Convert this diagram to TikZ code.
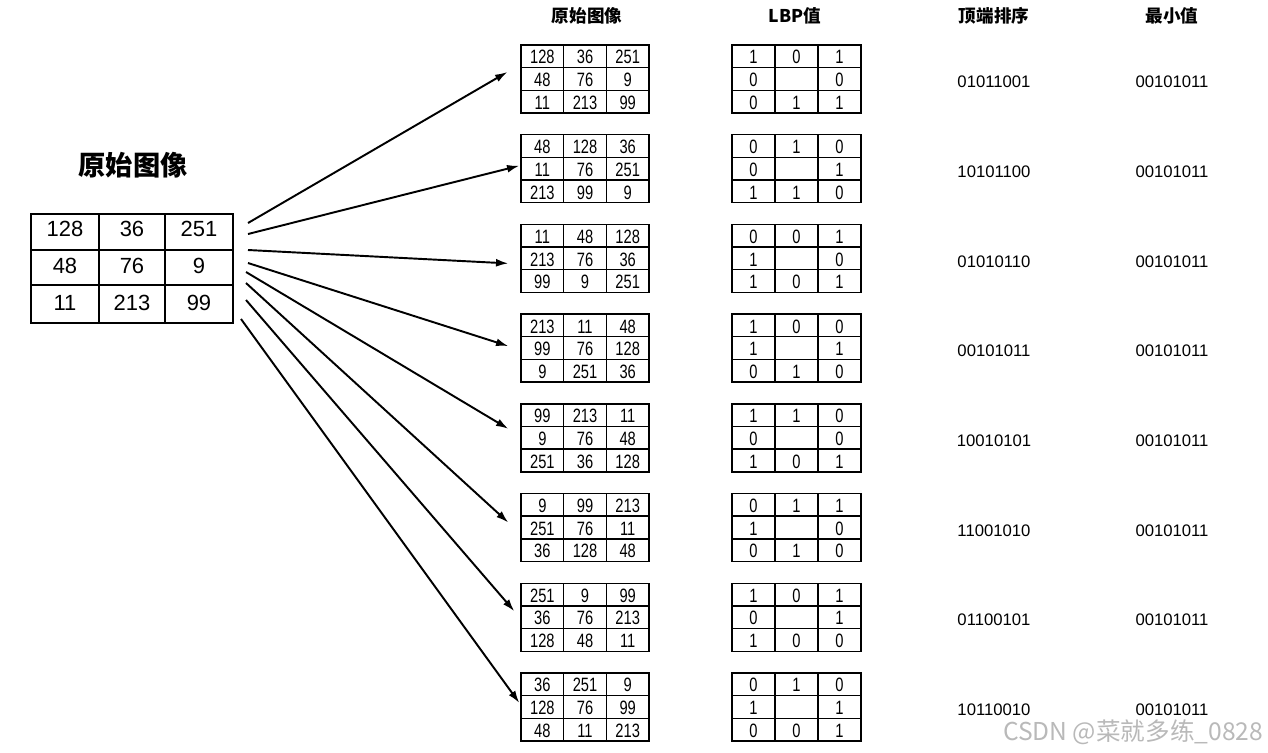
\documentclass[tikz,border=0pt]{standalone}
\usepackage{fontspec}
\setmainfont{Liberation Sans}
\newfontfamily\cjk{Noto Sans CJK SC}
\newfontfamily\narrow[FakeStretch=0.76]{Liberation Sans}
\usetikzlibrary{arrows.meta}

\begin{document}
\begin{tikzpicture}[x=0.02cm,y=-0.02cm,
    head/.style={font=\cjk\bfseries\fontsize{10}{12}\selectfont},
    box/.style={draw,line width=0.8pt,inner sep=0pt,minimum height=1.36cm},
    num/.style={font=\narrow\fontsize{11}{13}\selectfont,inner sep=0pt},
    bignum/.style={font=\fontsize{12.5}{15}\selectfont,inner sep=0pt},
    code/.style={font=\fontsize{9.5}{11}\selectfont,inner sep=0pt},
    conn/.style={line width=1.1pt,-{Latex[length=7pt,width=4.5pt]}}]
  \useasboundingbox (0,0) rectangle (1268,752);

  % Column headings
  \node[head] (h1) at (587,16) {原始图像};
  \node[head] (h2) at (795,16) {LBP值};
  \node[head] (h3) at (994,16) {顶端排序};
  \node[head] (h4) at (1172,16) {最小值};

  % The original image
  \node[font=\cjk\bfseries\fontsize{15.5}{18}\selectfont] (title) at (133,165) {原始图像};
  \node[draw,line width=1.1pt,minimum width=4.04cm,minimum height=2.18cm,inner sep=0pt] (src) at (132,268.5) {};
  \draw[line width=1.1pt] (99,214) -- (99,323);
  \draw[line width=1.1pt] (165,214) -- (165,323);
  \draw[line width=1.1pt] (31,250) -- (233,250);
  \draw[line width=1.1pt] (31,285) -- (233,285);
  \foreach \v [count=\n from 0] in {128,36,251,48,76,9,11,213,99} {
    \pgfmathtruncatemacro\r{\n/3}
    \pgfmathtruncatemacro\c{mod(\n,3)}
    \node[bignum] (s\n) at ({65+67*\c},{229+37*\r}) {\v};
  }

  % The eight rotations, their LBP values and codes
  \foreach \img/\bits/\code [count=\k] in {
      {128,36,251,48,76,9,11,213,99}/{1,0,1,0,{},0,0,1,1}/01011001,
      {48,128,36,11,76,251,213,99,9}/{0,1,0,0,{},1,1,1,0}/10101100,
      {11,48,128,213,76,36,99,9,251}/{0,0,1,1,{},0,1,0,1}/01010110,
      {213,11,48,99,76,128,9,251,36}/{1,0,0,1,{},1,0,1,0}/00101011,
      {99,213,11,9,76,48,251,36,128}/{1,1,0,0,{},0,1,0,1}/10010101,
      {9,99,213,251,76,11,36,128,48}/{0,1,1,1,{},0,0,1,0}/11001010,
      {251,9,99,36,76,213,128,48,11}/{1,0,1,0,{},1,1,0,0}/01100101,
      {36,251,9,128,76,99,48,11,213}/{0,1,0,1,{},1,0,0,1}/10110010} {
    \pgfmathsetmacro\gy{45+89.7*(\k-1)}
    \node[box,minimum width=2.56cm] (o\k) at (585,\gy+34) {};
    \node[box,minimum width=2.58cm] (l\k) at (796.5,\gy+34) {};
    \foreach \i in {1,2} {
      \draw[line width=0.8pt] (521+42.67*\i,\gy) -- ++(0,68);
      \draw[line width=0.8pt] (521,\gy+22.67*\i) -- ++(128,0);
      \draw[line width=0.8pt] (732+43*\i,\gy) -- ++(0,68);
      \draw[line width=0.8pt] (732,\gy+22.67*\i) -- ++(129,0);
    }
    \foreach \v [count=\n from 0] in \img {
      \pgfmathtruncatemacro\r{\n/3}
      \pgfmathtruncatemacro\c{mod(\n,3)}
      \node[num] (o\k-\n) at ({521+42.67*(\c+0.5)},{\gy+22.67*(\r+0.5)+1}) {\v};
    }
    \foreach \v [count=\n from 0] in \bits {
      \pgfmathtruncatemacro\r{\n/3}
      \pgfmathtruncatemacro\c{mod(\n,3)}
      \node[num] (l\k-\n) at ({732+43*(\c+0.5)},{\gy+22.67*(\r+0.5)+1}) {\v};
    }
    \node[code] (t\k) at (994,\gy+37) {\code};
    \node[code] (m\k) at (1172,\gy+37) {00101011};
  }

  % Arrows from the original image
  \foreach \k/\sx/\sy/\dx/\dy in {1/248/223/-13/-7, 2/248/234/-1/-3, 3/248/250/-12/5,
      4/248/263/-12/-2, 5/246/272/-12/-9, 6/246/283/-12/-5, 7/246/300/-6/-6, 8/241/319/-1/-4} {
    \coordinate (a\k) at (\sx,\sy);
    \draw[conn] (a\k) -- ([shift={(\dx,\dy)}]o\k.west);
  }

  \node[font=\cjk\fontsize{14}{16}\selectfont,text=gray!55] (mark) at (1133,732) {CSDN @菜就多练\_0828};
\end{tikzpicture}
\end{document}
